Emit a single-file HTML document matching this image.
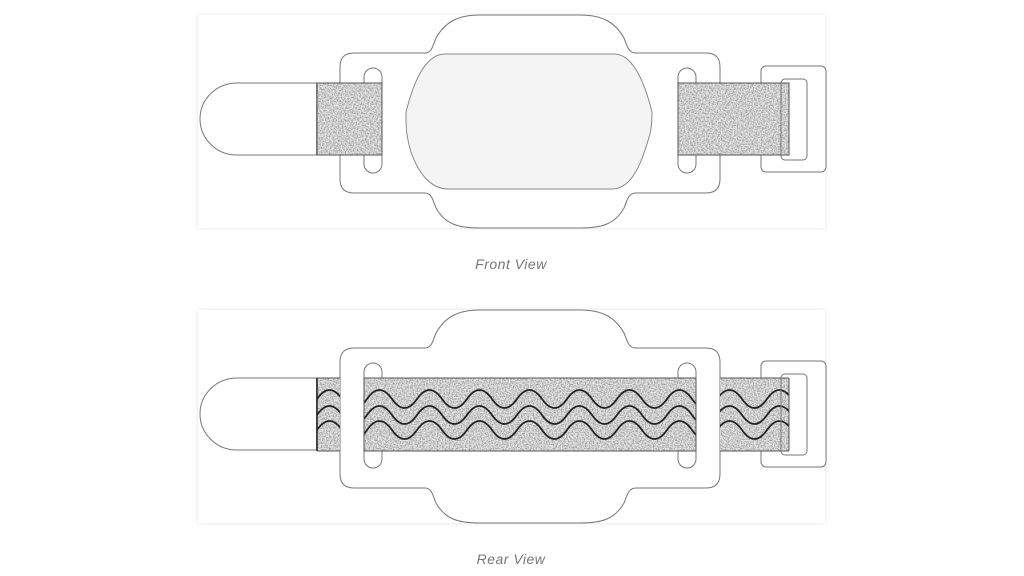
<!DOCTYPE html>
<html><head><meta charset="utf-8"><style>
html,body{margin:0;padding:0;background:#fff;}
svg{display:block}
</style></head><body>
<svg width="1024" height="576" viewBox="0 0 1024 576" xmlns="http://www.w3.org/2000/svg">
<defs>
<filter id="n" x="0" y="0" width="100%" height="100%">
<feTurbulence type="fractalNoise" baseFrequency="0.75" numOctaves="2" seed="3" result="t"/>
<feColorMatrix in="t" type="matrix" values="0 0 0 0 0.3  0 0 0 0 0.3  0 0 0 0 0.3  2.6 0 0 0 -0.95" result="c"/>
<feComposite in="c" in2="SourceGraphic" operator="in"/>
</filter>
<filter id="sh" x="-5%" y="-5%" width="110%" height="110%">
<feDropShadow dx="0" dy="0" stdDeviation="2" flood-color="#000" flood-opacity="0.12"/>
</filter>
<g id="body">
<path d="M354 53 H425 C432 53 433 45 436 38 C445 22 458 15 480 15 H580 C602 15 615 22 624 38 C627 45 628 53 636 53 H706 Q720 53 720 67 V179 Q720 193 706 193 H636 C628 193 627 201 624 208 C615 224 602 228 580 228 H480 C458 228 445 224 436 208 C433 201 432 193 425 193 H354 Q340 193 340 179 V67 Q340 53 354 53 Z" fill="#fff" stroke="#777" stroke-width="1"/>
<rect x="364" y="68" width="18" height="105" rx="9" fill="none" stroke="#777"/>
<rect x="678" y="68" width="18" height="105" rx="9" fill="none" stroke="#777"/>
</g>
<g id="tab">
<path d="M317 83 H237 A37 36 0 0 0 237 155 H317" fill="#fff" stroke="#777"/>
<line x1="317" y1="83" x2="317" y2="155" stroke="#222" stroke-width="1.5"/>
</g>
<path id="wave" d="M317 0 q12.5 -18 25 0 t25 0 t25 0 t25 0 t25 0 t25 0 t25 0 t25 0 t25 0 t25 0 t25 0 t25 0 t25 0 t25 0 t25 0 t25 0 t25 0 t25 0 t25 0 t25 0" fill="none" stroke="#222" stroke-width="1.8"/>
<clipPath id="rc"><rect x="317" y="83" width="23" height="73"/><rect x="364" y="83" width="332" height="73"/><rect x="720" y="83" width="69" height="73"/></clipPath>
</defs>

<!-- Front -->
<rect x="198" y="15" width="627" height="213" fill="#fff" filter="url(#sh)"/>
<use href="#body"/>
<path d="M445 54 H614 C632 54 644 80 652 112 C652 130 650 135 645 150 C638 172 628 189 612 189 H448 C430 189 418 172 411 152 C406 135 406 128 406 112 C414 80 426 54 445 54 Z" fill="#f4f4f4" stroke="#888"/>
<use href="#tab"/>
<rect x="317" y="83" width="65" height="72" fill="#eaeaea"/>
<rect x="317" y="83" width="65" height="72" fill="#eaeaea" filter="url(#n)"/>
<rect x="317" y="83" width="65" height="72" fill="none" stroke="#555" stroke-width="1"/>
<rect x="761" y="66" width="65" height="106" rx="5" fill="#fff" stroke="#777"/>
<rect x="678" y="83" width="111" height="72" fill="#eaeaea"/>
<rect x="678" y="83" width="111" height="72" fill="#eaeaea" filter="url(#n)"/>
<rect x="678" y="83" width="111" height="72" fill="none" stroke="#555"/>
<rect x="781" y="79" width="26" height="81" rx="4" fill="none" stroke="#777"/>
<text x="511" y="269" text-anchor="middle" font-family="Liberation Sans, sans-serif" font-style="italic" font-size="14" letter-spacing="0.5" fill="#777">Front View</text>

<!-- Rear -->
<g transform="translate(0,295)">
<rect x="198" y="15" width="627" height="213" fill="#fff" filter="url(#sh)"/>
<use href="#body"/>
<use href="#tab"/>
<rect x="761" y="66" width="65" height="106" rx="5" fill="#fff" stroke="#777"/>
<g clip-path="url(#rc)">
<rect x="317" y="83" width="472" height="73" fill="#eaeaea"/>
<rect x="317" y="83" width="472" height="73" fill="#eaeaea" filter="url(#n)"/>
<use href="#wave" transform="translate(0,104)"/>
<use href="#wave" transform="translate(0,120)"/>
<use href="#wave" transform="translate(0,135)"/>
</g>
<path d="M317 83 H340 M364 83 H696 M720 83 H789 M317 156 H340 M364 156 H696 M720 156 H789 M789 83 V156 M364 83 V156 M696 83 V156" stroke="#555" fill="none"/>
<line x1="317" y1="83" x2="317" y2="156" stroke="#222" stroke-width="1.5"/>
<rect x="781" y="79" width="26" height="81" rx="4" fill="none" stroke="#777"/>
</g>
<text x="511" y="564" text-anchor="middle" font-family="Liberation Sans, sans-serif" font-style="italic" font-size="14" letter-spacing="0.5" fill="#777">Rear View</text>
</svg>
</body></html>
